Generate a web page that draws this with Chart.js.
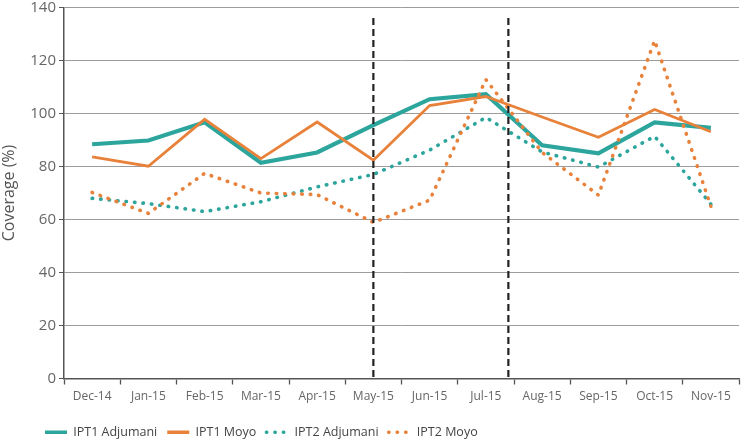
<!DOCTYPE html>
<html>
<head>
<meta charset="utf-8">
<script src="https://cdn.jsdelivr.net/npm/chart.js@4/dist/chart.umd.min.js"></script>
<style>
  html, body { margin: 0; padding: 0; background: #fff; }
  #wrap { width: 745px; height: 443px; }
</style>
</head>
<body>
<div id="wrap"><canvas id="myChart" width="745" height="443"></canvas></div>
<script>
// months on the x axis
var months = ['Dec-14', 'Jan-15', 'Feb-15', 'Mar-15', 'Apr-15', 'May-15',
  'Jun-15', 'Jul-15', 'Aug-15', 'Sep-15', 'Oct-15', 'Nov-15'];

// coverage (%)
var ipt1Adjumani = [88.4, 89.8, 96.7, 81.4, 85.3, 95.6, 105.4, 107.3, 88.0, 85.0, 96.6, 94.6];
var ipt1Moyo     = [83.6, 80.1, 97.8, 83.0, 96.8, 82.4, 103.0, 106.4, 98.7, 91.0, 101.5, 93.1];
var ipt2Adjumani = [68.0, 66.0, 63.0, 66.7, 72.3, 77.0, 86.2, 98.5, 85.5, 79.8, 91.4, 65.8];
var ipt2Moyo     = [70.2, 62.3, 77.4, 70.0, 69.4, 58.9, 67.3, 112.8, 85.3, 69.2, 127.5, 65.0];

var yTicks = [0, 20, 40, 60, 80, 100, 120, 140];

// dashed period markers (category positions) and their top value
var dividerAt = [5, 7.4];
var dividerTop = 136;

var teal = '#2ca59d';
var orange = '#e8823b';
var font = '"Open Sans", sans-serif';

var dividers = {
  id: 'dividers',
  afterDatasetsDraw: function(chart) {
    var ctx = chart.ctx;
    var x = chart.scales.x, y = chart.scales.y;
    ctx.save();
    ctx.strokeStyle = '#222';
    ctx.lineWidth = 2.2;
    ctx.setLineDash([7, 4]);
    dividerAt.forEach(function(v) {
      var px = x.getPixelForValue(v);
      ctx.beginPath();
      ctx.moveTo(px, y.getPixelForValue(dividerTop));
      ctx.lineTo(px, y.getPixelForValue(0));
      ctx.stroke();
    });
    ctx.restore();
  }
};

// move the legend a bit to the right like in the original
var legendShift = {
  id: 'legendShift',
  afterLayout: function(chart) {
    chart.legend.left += 35;
    chart.legend.right += 35;
  }
};

function dotted(label, data, color, order) {
  return {
    label: label, data: data, borderColor: color, backgroundColor: color,
    borderWidth: 3.6, borderDash: [0.5, 8], borderCapStyle: 'round',
    pointRadius: 0, tension: 0, order: order
  };
}

window.onload = function() {
  var ctx = document.getElementById('myChart').getContext('2d');

  var chart = new Chart(ctx, {
    type: 'line',
    data: {
      labels: months,
      datasets: [
        { label: 'IPT1 Adjumani', data: ipt1Adjumani, borderColor: teal, backgroundColor: teal,
          borderWidth: 4.2, pointRadius: 0, tension: 0, order: 4 },
        { label: 'IPT1 Moyo', data: ipt1Moyo, borderColor: orange, backgroundColor: orange,
          borderWidth: 2.8, pointRadius: 0, tension: 0, order: 3 },
        dotted('IPT2 Adjumani', ipt2Adjumani, teal, 2),
        dotted('IPT2 Moyo', ipt2Moyo, orange, 1)
      ]
    },
    options: {
      responsive: false,
      animation: false,
      layout: { padding: { left: 0, right: 6, top: -6, bottom: -5.5 } },
      plugins: {
        tooltip: { enabled: false },
        legend: {
          position: 'bottom',
          align: 'start',
          labels: {
            color: '#444',
            font: { family: font, size: 12.5 },
            padding: 10,
            usePointStyle: true,
            pointStyleWidth: 22,
            boxHeight: 13,
            generateLabels: function(c) {
              return c.data.datasets.map(function(ds, i) {
                return {
                  text: ds.label,
                  datasetIndex: i,
                  pointStyle: 'line',
                  strokeStyle: ds.borderColor,
                  fillStyle: ds.borderColor,
                  lineWidth: ds.borderDash ? 3.4 : 3.5,
                  lineDash: ds.borderDash || [],
                  lineCap: ds.borderDash ? 'round' : 'butt',
                  fontColor: '#444'
                };
              });
            }
          }
        }
      },
      scales: {
        x: {
          offset: true,
          afterFit: function(scale) { scale.height = 37.5; },
          grid: { offset: true, drawOnChartArea: false, tickLength: 6, tickColor: '#555', tickWidth: 1.3 },
          border: { color: '#555', width: 1.5 },
          ticks: { color: '#666', font: { family: font, size: 12 }, padding: 5, maxRotation: 0, autoSkip: false }
        },
        y: {
          min: 0,
          max: 140,
          afterBuildTicks: function(scale) {
            scale.ticks = yTicks.map(function(v) { return { value: v }; });
          },
          afterFit: function(scale) { scale.width = 64; },
          title: { display: true, text: 'Coverage (%)', color: '#555',
            font: { family: font, size: 16 }, padding: { top: 0, bottom: 2 } },
          grid: {
            color: function(c) { return c.tick && c.tick.value === 0 ? 'rgba(0,0,0,0)' : '#9c9c9c'; },
            borderDash: [1.4, 4.9],
            tickBorderDash: [],
            tickColor: '#555',
            tickLength: 5,
            lineWidth: 1
          },
          border: { color: '#555', width: 1.5, dash: [] },
          ticks: { color: '#666', font: { family: font, size: 15, lineHeight: 0.6 }, padding: 3 }
        }
      }
    },
    plugins: [dividers, legendShift]
  });
};
</script>
</body>
</html>
